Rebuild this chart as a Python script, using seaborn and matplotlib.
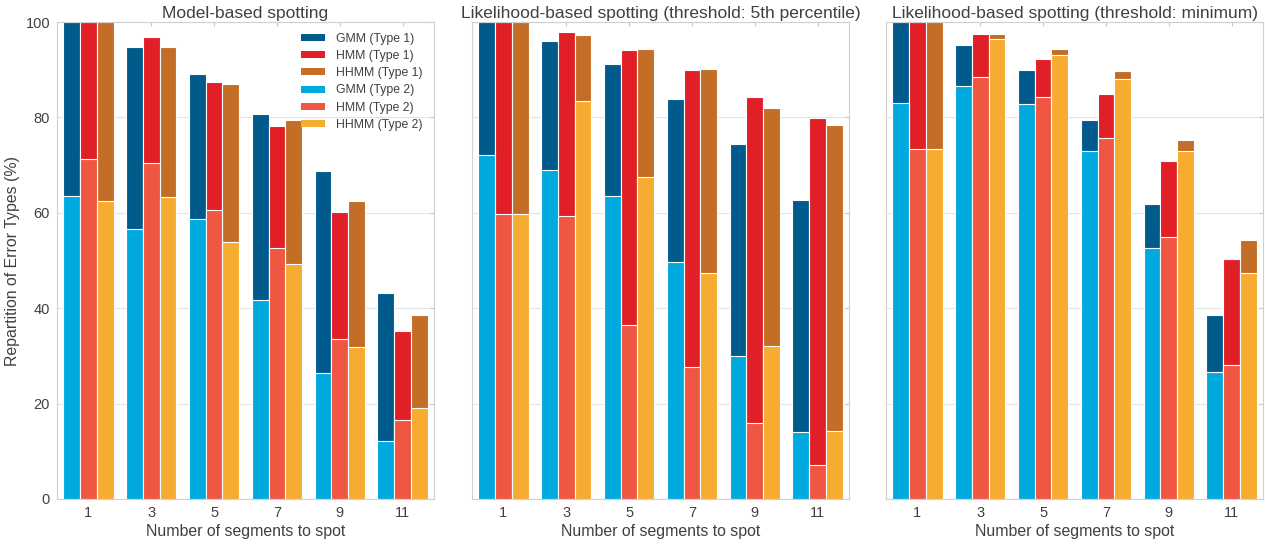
import pandas as pd
import seaborn as sns
import matplotlib.pyplot as plt
from matplotlib.patches import Patch

segments = [1, 3, 5, 7, 9, 11]
models = ['GMM', 'HMM', 'HHMM']

# Model-based spotting (Type 1 sits on top of Type 2)
mb_gmm_t1 = [36.4, 38.3, 30.5, 38.9, 42.2, 31.0]
mb_gmm_t2 = [63.6, 56.5, 58.6, 41.8, 26.5, 12.2]
mb_hmm_t1 = [28.8, 26.5, 27.0, 25.7, 26.5, 18.8]
mb_hmm_t2 = [71.2, 70.4, 60.5, 52.6, 33.6, 16.5]
mb_hhmm_t1 = [37.6, 31.4, 33.3, 30.2, 30.5, 19.4]
mb_hhmm_t2 = [62.4, 63.4, 53.8, 49.2, 31.9, 19.1]

# Likelihood-based spotting, threshold 5th percentile
p5_gmm_t1 = [27.8, 27.0, 27.5, 34.3, 44.6, 48.6]
p5_gmm_t2 = [72.2, 69.0, 63.6, 49.6, 29.9, 14.0]
p5_hmm_t1 = [40.2, 38.7, 57.6, 62.2, 68.3, 72.8]
p5_hmm_t2 = [59.8, 59.3, 36.5, 27.7, 15.9, 7.1]
p5_hhmm_t1 = [40.3, 13.8, 26.7, 42.8, 50.0, 64.3]
p5_hhmm_t2 = [59.7, 83.4, 67.6, 47.4, 32.0, 14.2]

# Likelihood-based spotting, threshold minimum
mn_gmm_t1 = [16.9, 8.6, 7.2, 6.6, 9.3, 12.0]
mn_gmm_t2 = [83.1, 86.5, 82.8, 72.9, 52.6, 26.6]
mn_hmm_t1 = [26.6, 9.0, 7.9, 9.2, 15.8, 22.3]
mn_hmm_t2 = [73.4, 88.4, 84.3, 75.7, 55.0, 28.1]
mn_hhmm_t1 = [26.6, 1.0, 1.2, 1.8, 2.3, 6.9]
mn_hhmm_t2 = [73.4, 96.4, 93.1, 88.0, 72.9, 47.3]

titles = ['Model-based spotting',
          'Likelihood-based spotting (threshold: 5th percentile)',
          'Likelihood-based spotting (threshold: minimum)']

panels = [
    {'GMM': (mb_gmm_t1, mb_gmm_t2), 'HMM': (mb_hmm_t1, mb_hmm_t2), 'HHMM': (mb_hhmm_t1, mb_hhmm_t2)},
    {'GMM': (p5_gmm_t1, p5_gmm_t2), 'HMM': (p5_hmm_t1, p5_hmm_t2), 'HHMM': (p5_hhmm_t1, p5_hhmm_t2)},
    {'GMM': (mn_gmm_t1, mn_gmm_t2), 'HMM': (mn_hmm_t1, mn_hmm_t2), 'HHMM': (mn_hhmm_t1, mn_hhmm_t2)},
]

type1_colors = {'GMM': '#005A8C', 'HMM': '#E01F27', 'HHMM': '#C46D27'}
type2_colors = {'GMM': '#00AADF', 'HMM': '#EF5742', 'HHMM': '#F6AC30'}

text_col = '#404040'
sns.set_style('whitegrid', rc={'axes.edgecolor': '#d0d0d0', 'grid.color': '#e4e4e4',
                               'axes.linewidth': 1.0, 'grid.linewidth': 1.0})
plt.rcParams['font.family'] = ['Liberation Sans', 'DejaVu Sans']
plt.rcParams['text.color'] = text_col
plt.rcParams['axes.labelcolor'] = text_col
plt.rcParams['xtick.color'] = text_col
plt.rcParams['ytick.color'] = text_col

fig = plt.figure(figsize=(12.65, 5.45), dpi=100)
lefts = [57, 472, 886]
axes = [fig.add_axes([l / 1265, 46 / 545, 377 / 1265, 477 / 545]) for l in lefts]

for i, (ax, title, vals) in enumerate(zip(axes, titles, panels)):
    rows = []
    for m in models:
        t1, t2 = vals[m]
        for s, a, b in zip(segments, t1, t2):
            rows.append({'seg': str(s), 'model': m, 't1': a, 't2': b, 'total': a + b})
    df = pd.DataFrame(rows)
    order = [str(s) for s in segments]
    sns.barplot(data=df, x='seg', y='total', hue='model', order=order, hue_order=models,
                palette=type1_colors, saturation=1, width=0.8, errorbar=None,
                edgecolor='white', linewidth=0.8, legend=False, ax=ax)
    sns.barplot(data=df, x='seg', y='t2', hue='model', order=order, hue_order=models,
                palette=type2_colors, saturation=1, width=0.8, errorbar=None,
                edgecolor='white', linewidth=0.8, legend=False, ax=ax)
    ax.set_xlim(-0.5, 5.5)
    ax.set_ylim(0, 100)
    ax.set_yticks(range(0, 101, 20))
    ax.yaxis.grid(True)
    ax.xaxis.grid(False)
    ax.tick_params(direction='in', length=3, width=0.8, color='#c8c8c8',
                   top=True, right=True, labelsize=10.5, pad=5)
    ax.set_title(title, fontsize=12.5, pad=3, color=text_col)
    ax.set_xlabel('Number of segments to spot', fontsize=11.4, labelpad=3)
    if i == 0:
        ax.set_ylabel('Repartition of Error Types (%)', fontsize=11.4, labelpad=4)
    else:
        ax.set_ylabel('')
        ax.tick_params(labelleft=False)
    for sp in ax.spines.values():
        sp.set_visible(True)
        sp.set_color('#d0d0d0')

handles = [Patch(facecolor=type1_colors[m], edgecolor='none', label=f'{m} (Type 1)') for m in models]
handles += [Patch(facecolor=type2_colors[m], edgecolor='none', label=f'{m} (Type 2)') for m in models]
axes[0].legend(handles=handles, loc='upper left', bbox_to_anchor=(0.647, 0.977), frameon=False,
               fontsize=8.8, handlelength=2.0, handleheight=0.5, handletextpad=0.9,
               labelspacing=0.42, borderpad=0, borderaxespad=0)

plt.savefig('out.png', dpi=100)
